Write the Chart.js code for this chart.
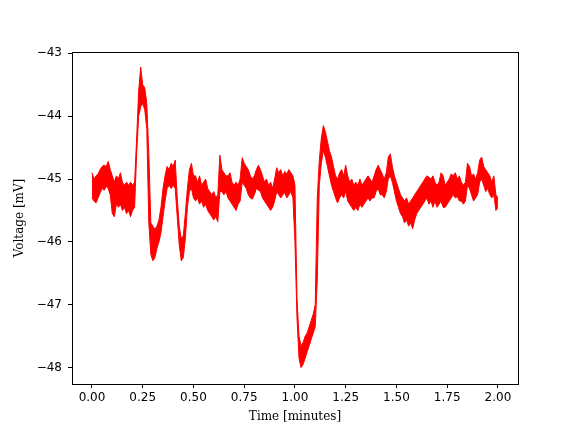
<!DOCTYPE html>
<html>
<head>
<meta charset="utf-8">
<script src="https://cdn.jsdelivr.net/npm/chart.js@4/dist/chart.umd.min.js"></script>
<style>
  html, body { margin: 0; padding: 0; background: #fff; }
  #wrap { width: 576px; height: 432px; }
</style>
</head>
<body>
<div id="wrap"><canvas id="grafico" width="576" height="432"></canvas></div>
<script>
// sample step of the envelope readings, in minutes
const passo = 0.01;

// upper edge of the noisy trace, one reading every 0.01 min (0.00 .. 2.00)
const topo = [
  -44.90, -45.00, -44.95, -44.92, -44.85, -44.80, -44.78, -44.80, -44.72, -44.85,
  -44.95, -45.05, -44.95, -45.00, -44.90, -45.05, -45.10, -45.05, -45.10, -45.05,
  -45.10, -45.05, -44.35, -43.60, -43.22, -43.50, -43.55, -43.80, -44.60, -45.70,
  -45.75, -45.80, -45.75, -45.65, -45.45, -45.15, -44.95, -44.80, -44.85, -44.75,
  -44.80, -44.70, -45.30, -45.75, -45.95, -45.90, -45.55, -45.15, -44.85, -44.75,
  -44.95, -44.95, -45.05, -44.95, -45.10, -45.05, -45.00, -45.15, -45.20, -45.25,
  -45.20, -45.30, -45.25, -44.62, -44.85, -44.90, -44.95, -44.95, -44.90, -45.05,
  -45.10, -45.05, -45.10, -45.00, -44.66, -44.75, -44.80, -44.85, -44.95, -45.00,
  -44.95, -44.85, -44.78, -44.85, -44.95, -45.05, -45.00, -45.10, -45.05, -45.15,
  -45.00, -44.82, -44.90, -44.85, -44.95, -44.88, -44.92, -44.85, -44.90, -44.95,
  -45.10, -46.90, -47.50, -47.65, -47.60, -47.50, -47.45, -47.35, -47.25, -47.15,
  -47.00, -45.30, -44.70, -44.35, -44.15, -44.25, -44.40, -44.55, -44.65, -44.80,
  -44.95, -45.00, -44.90, -44.85, -44.95, -44.78, -44.95, -45.05, -45.00, -45.10,
  -45.05, -45.10, -45.00, -45.10, -45.05, -45.00, -44.95, -45.00, -45.05, -44.95,
  -44.85, -44.78, -44.85, -44.92, -45.00, -44.90, -44.65, -44.60, -44.80, -44.95,
  -45.05, -45.15, -45.25, -45.30, -45.35, -45.30, -45.40, -45.35, -45.30, -45.25,
  -45.20, -45.15, -45.10, -45.05, -45.00, -44.95, -44.97, -45.00, -44.95, -45.05,
  -45.10, -45.05, -44.90, -44.95, -45.10, -45.05, -45.00, -44.92, -44.95, -44.90,
  -45.00, -44.95, -45.05, -45.10, -45.05, -44.75, -44.80, -44.95, -44.92, -45.00,
  -44.90, -44.70, -44.65, -44.80, -44.85, -44.90, -44.95, -45.05, -44.95, -45.25,
  -45.30
];

// lower edge of the noisy trace, same readings grid
const base = [
  -45.30, -45.35, -45.38, -45.30, -45.22, -45.15, -45.18, -45.12, -45.15, -45.25,
  -45.55, -45.60, -45.40, -45.45, -45.40, -45.50, -45.45, -45.55, -45.50, -45.60,
  -45.50, -45.45, -44.60, -44.00, -43.85, -43.80, -43.90, -44.20, -45.70, -46.20,
  -46.30, -46.25, -46.10, -46.00, -45.85, -45.60, -45.35, -45.15, -45.10, -45.15,
  -45.10, -45.15, -45.60, -46.05, -46.30, -46.25, -45.95, -45.45, -45.20, -45.15,
  -45.30, -45.35, -45.30, -45.40, -45.35, -45.45, -45.40, -45.50, -45.55, -45.60,
  -45.65, -45.60, -45.68, -45.20, -45.20, -45.25, -45.20, -45.30, -45.35, -45.40,
  -45.45, -45.50, -45.40, -45.35, -45.05, -45.10, -45.15, -45.25, -45.30, -45.32,
  -45.25, -45.15, -45.18, -45.20, -45.30, -45.35, -45.40, -45.45, -45.50, -45.45,
  -45.35, -45.20, -45.25, -45.30, -45.25, -45.22, -45.30, -45.25, -45.20, -45.30,
  -46.00, -47.20, -47.85, -48.00, -47.95, -47.85, -47.75, -47.65, -47.55, -47.45,
  -47.35, -46.60, -45.10, -44.75, -44.55, -44.65, -44.80, -44.95, -45.10, -45.20,
  -45.30, -45.38, -45.30, -45.25, -45.30, -45.20, -45.35, -45.40, -45.45, -45.50,
  -45.45, -45.50, -45.40, -45.45, -45.40, -45.35, -45.30, -45.35, -45.30, -45.30,
  -45.20, -45.15, -45.25, -45.25, -45.30, -45.20, -45.00, -44.95, -45.05, -45.20,
  -45.35, -45.45, -45.55, -45.60, -45.70, -45.65, -45.75, -45.70, -45.79, -45.65,
  -45.55, -45.50, -45.45, -45.40, -45.35, -45.30, -45.40, -45.35, -45.45, -45.35,
  -45.45, -45.40, -45.35, -45.45, -45.45, -45.40, -45.35, -45.30, -45.25, -45.30,
  -45.28, -45.35, -45.35, -45.40, -45.35, -45.10, -45.15, -45.25, -45.35, -45.30,
  -45.25, -45.05, -45.00, -45.10, -45.20, -45.15, -45.25, -45.30, -45.25, -45.50,
  -45.45
];

// ticks
const ticksX = [0, 0.25, 0.5, 0.75, 1.0, 1.25, 1.5, 1.75, 2.0];
const ticksY = [-48, -47, -46, -45, -44, -43];

const linhaTopo = topo.map((v, i) => ({ x: i * passo, y: v }));
const linhaBase = base.map((v, i) => ({ x: i * passo, y: v }));

const menos = n => (n < 0 ? "\u2212" : "") + Math.abs(n);

// frame round the plot area (matplotlib spines)
const moldura = {
  id: "moldura",
  afterDraw(chart) {
    const { ctx, chartArea: a } = chart;
    ctx.save();
    ctx.strokeStyle = "#000";
    ctx.lineWidth = 1;
    ctx.strokeRect(Math.round(a.left) + 0.5, Math.round(a.top) + 0.5,
      Math.round(a.right - a.left), Math.round(a.bottom - a.top));
    ctx.restore();
  }
};

new Chart(document.getElementById("grafico"), {
  type: "line",
  data: {
    datasets: [
      {
        data: linhaTopo,
        borderColor: "#ff0000",
        borderWidth: 1,
        pointRadius: 0,
        tension: 0,
        fill: false
      },
      {
        data: linhaBase,
        borderColor: "#ff0000",
        backgroundColor: "#ff0000",
        borderWidth: 1,
        pointRadius: 0,
        tension: 0,
        fill: "-1"
      }
    ]
  },
  options: {
    responsive: false,
    animation: false,
    layout: { padding: { top: 52, right: 58, left: 0, bottom: 0 } },
    plugins: {
      legend: { display: false },
      tooltip: { enabled: false }
    },
    scales: {
      x: {
        type: "linear",
        min: -0.0985,
        max: 2.099,
        afterBuildTicks: s => { s.ticks = ticksX.map(v => ({ value: v })); },
        afterFit: s => { s.height = 48; },
        grid: { drawOnChartArea: false, drawTicks: true, tickLength: 4, color: "#000" },
        border: { display: true, color: "#000" },
        ticks: {
          color: "#000",
          padding: 3,
          maxRotation: 0,
          font: { family: "DejaVu Sans", size: 12 },
          callback: v => v.toFixed(2)
        },
        title: {
          display: true,
          text: "Time [minutes]",
          color: "#000",
          padding: { top: 2, bottom: 8 },
          font: { family: "DejaVu Serif", size: 12 }
        }
      },
      y: {
        min: -48.26,
        max: -42.98,
        afterBuildTicks: s => { s.ticks = ticksY.map(v => ({ value: v })); },
        afterFit: s => { s.width = 72; },
        grid: { drawOnChartArea: false, drawTicks: true, tickLength: 4, color: "#000" },
        border: { display: true, color: "#000" },
        ticks: {
          color: "#000",
          padding: 6,
          font: { family: "DejaVu Sans", size: 12 },
          callback: v => menos(v)
        },
        title: {
          display: true,
          text: "Voltage [mV]",
          color: "#000",
          padding: { top: 13, bottom: 2 },
          font: { family: "DejaVu Serif", size: 12 }
        }
      }
    }
  },
  plugins: [moldura]
});
</script>
</body>
</html>
